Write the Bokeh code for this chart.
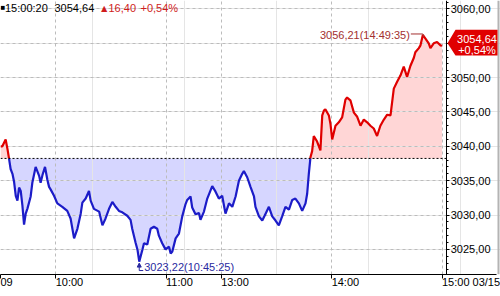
import numpy as np
from bokeh.plotting import figure
from bokeh.models import (Range1d, FixedTicker, CustomJSTickFormatter, Label, Span,
                          PolyAnnotation, Arrow, NormalHead, LinearAxis, Grid)
from bokeh.embed import file_html
from bokeh.resources import INLINE

# ---------------- data (trading minutes after 09:30; 13:00 == 120) ----------------
minutes = [0.0, 1.0, 2.8, 3.8, 4.7, 5.5, 6.5, 7.4, 8.3, 9.2, 10.1, 11.0, 11.9, 12.8, 13.7,
           14.6, 16.4, 17.3, 19.1, 20.0, 21.0, 21.8, 22.8, 24.2, 25.5, 26.4, 27.3, 29.1,
           30.9, 33.6, 36.3, 38.1, 40.0, 41.8, 43.6, 44.5, 46.3, 48.1, 49.0, 50.8, 53.6,
           55.4, 57.1, 59.0, 60.8, 62.6, 64.4, 66.2, 68.9, 70.7, 71.6, 73.4, 74.5, 75.42,
           77.1, 78.0, 79.8, 81.6, 83.4, 85.2, 86.1, 87.9, 89.7, 91.6, 92.5, 93.4, 95.2,
           97.0, 98.8, 100.6, 101.5, 103.3, 104.2, 106.0, 107.9, 108.7, 110.6, 112.4,
           115.1, 116.9, 118.7, 120.5, 122.3, 124.2, 126.0, 127.8, 129.6, 131.4, 132.3,
           134.1, 135.9, 137.8, 138.6, 140.5, 142.3, 144.1, 145.9, 147.7, 149.5, 151.3,
           153.1, 154.9, 156.8, 158.6, 160.3, 162.2, 164.0, 165.8, 166.7, 167.6, 168.5,
           169.4, 170.3, 172.1, 173.9, 174.9, 175.8, 176.6, 178.5, 179.4, 180.3, 182.1,
           183.9, 185.7, 187.5, 188.4, 190.2, 192.1, 193.9, 195.7, 197.5, 199.3, 201.1,
           202.9, 204.7, 206.5, 208.4, 210.2, 212.0, 213.8, 215.6, 217.4, 219.2, 221.0,
           222.8, 224.7, 225.5, 227.4, 228.3, 229.58, 232.8, 233.7, 235.5, 237.3, 239.1,
           240.0]
prices = [3040.0, 3040.0, 3041.0, 3039.6, 3038.1, 3036.7, 3036.0, 3034.8, 3032.8, 3032.1,
          3034.0, 3033.5, 3031.4, 3028.6, 3030.2, 3030.9, 3032.7, 3034.7, 3037.0, 3036.4,
          3035.7, 3034.7, 3035.8, 3037.0, 3035.1, 3034.1, 3033.7, 3032.8, 3031.7, 3031.2,
          3030.6, 3029.5, 3026.6, 3028.0, 3030.2, 3031.8, 3032.4, 3033.5, 3032.1, 3030.9,
          3030.5, 3028.5, 3029.5, 3030.9, 3031.9, 3031.2, 3030.6, 3030.4, 3029.9, 3029.3,
          3028.0, 3026.0, 3024.9, 3023.22, 3024.9, 3025.9, 3025.7, 3028.0, 3028.3, 3028.0,
          3027.0, 3025.9, 3025.0, 3025.4, 3024.4, 3024.7, 3026.6, 3027.3, 3029.8, 3031.6,
          3032.2, 3032.7, 3031.1, 3030.1, 3030.3, 3029.3, 3030.5, 3032.4, 3034.2, 3033.4,
          3032.4, 3032.8, 3030.2, 3031.7, 3031.2, 3032.7, 3035.0, 3036.0, 3036.4, 3035.5,
          3034.1, 3032.7, 3031.2, 3029.8, 3029.2, 3030.2, 3031.2, 3029.8, 3029.2, 3028.5,
          3029.8, 3031.2, 3030.8, 3032.2, 3032.4, 3031.7, 3030.6, 3031.7, 3033.1, 3036.0,
          3038.4, 3039.3, 3041.5, 3040.7, 3039.4, 3044.5, 3045.2, 3045.4, 3044.5, 3043.2,
          3041.0, 3043.0, 3043.5, 3044.2, 3046.8, 3047.1, 3046.7, 3044.9, 3044.3, 3043.0,
          3043.9, 3043.5, 3043.0, 3042.6, 3041.5, 3043.0, 3043.9, 3044.6, 3044.5, 3048.4,
          3049.4, 3050.3, 3051.6, 3050.1, 3051.7, 3052.9, 3053.7, 3054.3, 3054.7, 3056.21,
          3055.0, 3054.3, 3055.0, 3055.2, 3054.7, 3054.64]

prev_close = 3038.24
last_price = 3054.64
change = 16.40
change_pct = 0.54
clock = "15:00:20"
high_min, high_price, high_time = 229.58, 3056.21, "14:49:35"
low_min, low_price, low_time = 75.42, 3023.22, "10:45:25"
x_ticks = [0, 30, 90, 120, 180, 240]
x_tick_labels = ["09", "10:00", "11:00", "13:00", "14:00", "15:00 03/15"]
x_grid = [30, 90, 120, 180, 240]
y_grid = [3025, 3030, 3035, 3040, 3045, 3050, 3055, 3060]
y_labelled = [3025, 3030, 3035, 3040, 3045, 3050, 3060]   # 3055 sits under the last-price tag
y_minor = list(range(3022, 3062))

# ---------------- layout helpers ----------------
W, H = 500, 296
FW, FH = 500, 276          # frame spans the full width; price scale drawn at PLOT_R
PLOT_R = 446               # right edge of the plotting area (px)
PXU = 1.8396               # px per trading minute
PYU = 6.92                 # px per index point
X0 = 0.0
X1 = X0 + FW / PXU
Y1 = 3060 + 8.5 / PYU
Y0 = Y1 - FH / PYU

def px2x(px):
    return X0 + px / PXU

def py2y(py):
    return Y1 - py / PYU

def fmt(v):
    return f"{v:.2f}".replace(".", ",")

FONT = "Liberation Sans"
FS = "11px"
RED_TXT = "#d01c1c"
DARK_RED = "#a33030"
BLUE_TXT = "#2a2aa0"
LINE_RED = "#e00000"
LINE_BLUE = "#1c1cc8"
GRID = "#bcbcbc"

p = figure(width=W, height=H, x_range=Range1d(X0, X1), y_range=Range1d(Y0, Y1),
           output_backend="svg", toolbar_location=None,
           x_axis_location=None, y_axis_location=None,
           min_border_left=0, min_border_top=0, min_border_right=0,
           min_border_bottom=H - FH, outline_line_color=None,
           background_fill_color="white", border_fill_color="white")

# ---- time axis (below) ----
xa = LinearAxis(ticker=FixedTicker(ticks=x_ticks, minor_ticks=[]),
                formatter=CustomJSTickFormatter(args=dict(vals=x_ticks, labs=x_tick_labels),
                                                code="const i = vals.indexOf(tick); return i >= 0 ? labs[i] : '';"))
xa.major_label_orientation = -1e-6
xa.major_label_standoff = 3
xa.major_label_text_font = FONT
xa.major_label_text_font_size = FS
xa.major_label_text_color = "black"
xa.major_tick_out = 4
xa.major_tick_in = 0
xa.minor_tick_out = 0
xa.axis_line_color = "black"
xa.major_tick_line_color = "black"
xa.bounds = (X0, px2x(496))
p.add_layout(xa, "below")

# ---- price scale, pinned at the right edge of the plotting area ----
ya = LinearAxis(ticker=FixedTicker(ticks=y_labelled, minor_ticks=y_minor),
                formatter=CustomJSTickFormatter(code="return tick.toFixed(2).replace('.', ',')"),
                fixed_location=px2x(PLOT_R))
ya.major_label_text_font = FONT
ya.major_label_text_font_size = FS
ya.major_label_text_color = "black"
ya.major_tick_out = 0
ya.major_tick_in = 3
ya.minor_tick_out = 0
ya.minor_tick_in = 2
ya.major_label_standoff = -44
ya.axis_line_color = "black"
p.add_layout(ya, "left")

# ---- grids ----
gx = Grid(dimension=0, ticker=FixedTicker(ticks=x_grid), grid_line_color=GRID,
          grid_line_dash="3 3", level="underlay")
gy = Grid(dimension=1, ticker=FixedTicker(ticks=y_grid), grid_line_color=GRID,
          grid_line_dash="3 3", level="underlay")
if "cross_bounds" in Grid.properties():
    gy.cross_bounds = (X0, px2x(PLOT_R))
p.add_layout(gx)
p.add_layout(gy)

# ---------------- series split at the previous close ----------------
t = np.array(minutes, dtype=float)
v = np.array(prices, dtype=float)
xs, ys = [t[0]], [v[0]]
for i in range(1, len(t)):
    a, b = v[i - 1] - prev_close, v[i] - prev_close
    if a * b < 0:
        xs.append(t[i - 1] + (t[i] - t[i - 1]) * a / (a - b))
        ys.append(prev_close)
    xs.append(t[i])
    ys.append(v[i])
xs = np.array(xs)
ys = np.array(ys)

up_fill = p.varea(x=xs, y1=np.full_like(ys, prev_close), y2=np.maximum(ys, prev_close),
                  fill_color="#ffd6d6")
dn_fill = p.varea(x=xs, y1=np.minimum(ys, prev_close), y2=np.full_like(ys, prev_close),
                  fill_color="#d6d6ff")
up_fill.level = "image"
dn_fill.level = "image"

red_y = np.where(ys >= prev_close, ys, np.nan)
blue_y = np.where(ys <= prev_close, ys, np.nan)
p.line(xs, blue_y, line_color=LINE_BLUE, line_width=2.2)
p.line(xs, red_y, line_color=LINE_RED, line_width=2.2)

# previous close (dotted) across the plotting area only
p.segment(x0=[X0], y0=[prev_close], x1=[px2x(PLOT_R)], y1=[prev_close],
          line_color="black", line_dash="2 2", line_width=1)

# window border at the far right
p.add_layout(Span(location=px2x(498), dimension="height", line_color="#b4b4b4", line_width=2))

# ---------------- header ----------------
def lab(px, py, text, color, size=FS, align="left", font=FONT):
    p.add_layout(Label(x=px2x(px), y=py2y(py), text=text, text_align=align,
                       text_baseline="middle", text_font=font, text_font_size=size,
                       text_color=color))

lab(0, 7.5, "■", "black", size="8px")
lab(4.5, 8, clock, "black")
lab(54, 8, fmt(last_price), "black")
lab(98.5, 8, "▲", RED_TXT, size="10.5px")
lab(108, 8, fmt(change), RED_TXT)
lab(140, 8, "+" + fmt(change_pct) + "%", RED_TXT)

# ---------------- high / low markers ----------------
hx0 = high_min - 12 / PXU
p.segment(x0=[hx0, high_min], y0=[high_price + 1 / PYU, high_price + 1 / PYU],
          x1=[high_min, high_min + 1 / PXU], y1=[high_price + 1 / PYU, high_price - 2 / PYU],
          line_color=DARK_RED, line_width=1)
p.add_layout(Label(x=hx0, y=high_price, x_offset=-1, text=f"{fmt(high_price)}({high_time})",
                   text_align="right", text_baseline="middle", text_font=FONT,
                   text_font_size=FS, text_color=DARK_RED))

p.add_layout(Arrow(end=NormalHead(size=4, fill_color=BLUE_TXT, line_color=BLUE_TXT),
                   x_start=low_min, y_start=low_price - 9 / PYU, x_end=low_min,
                   y_end=low_price - 1.5 / PYU, line_color=BLUE_TXT, line_width=1))
p.segment(x0=[low_min], y0=[low_price - 9 / PYU], x1=[low_min + 4 / PXU],
          y1=[low_price - 9 / PYU], line_color=BLUE_TXT, line_width=1)
p.add_layout(Label(x=low_min + 5 / PXU, y=low_price - 5.5 / PYU,
                   text=f"{fmt(low_price)}({low_time})", text_align="left",
                   text_baseline="middle", text_font=FONT, text_font_size=FS,
                   text_color=BLUE_TXT))

# ---------------- last price tag on the price scale ----------------
p.add_layout(PolyAnnotation(xs=[px2x(447), px2x(455), px2x(497), px2x(497), px2x(455)],
                            ys=[py2y(43), py2y(29.5), py2y(29.5), py2y(55.5), py2y(55.5)],
                            fill_color="#e00000", fill_alpha=1, line_color=None))
lab(476.5, 38.5, fmt(last_price), "white", align="center")
lab(476.5, 49.5, "+" + fmt(change_pct) + "%", "white", align="center")

open("out.html", "w").write(file_html(p, INLINE))
